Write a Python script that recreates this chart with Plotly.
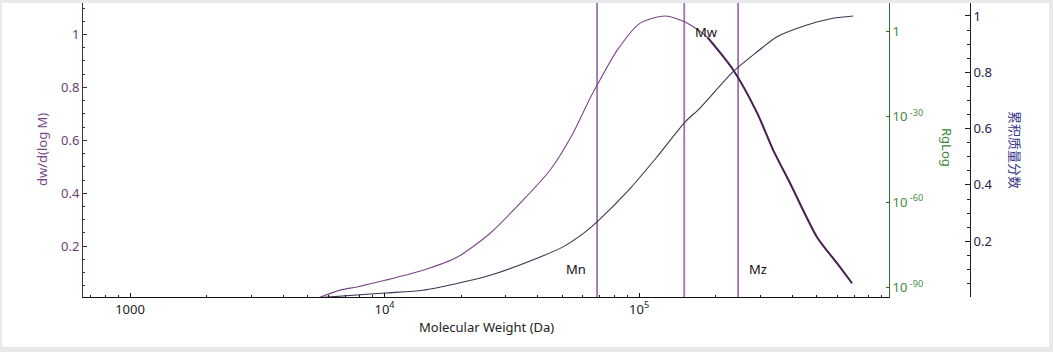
import numpy as np
import plotly.graph_objects as go

# ---------------- data ----------------
dist_M = [5333, 6683, 7795, 10040, 14160, 19270, 26000, 35010, 44680, 55030, 64170,
          68370, 81980, 100900, 126700, 151800, 185300, 234500, 291200, 336500,
          392100, 500400, 599500, 687000]
dist_val = [0.0, 0.034, 0.046, 0.071, 0.109, 0.158, 0.249, 0.374, 0.487, 0.627, 0.759,
            0.808, 0.940, 1.043, 1.070, 1.047, 0.990, 0.866, 0.703, 0.563,
            0.438, 0.234, 0.136, 0.060]

cum_M = [5585, 10040, 14160, 19270, 26000, 35010, 50230, 60240, 68370, 92170,
         117700, 151800, 173700, 234100, 285700, 348500, 457100, 578600, 693600]
cum_val = [0.0, 0.016, 0.026, 0.050, 0.079, 0.120, 0.180, 0.227, 0.269, 0.387,
           0.500, 0.624, 0.673, 0.802, 0.867, 0.926, 0.968, 0.992, 1.0]

rg_M = []
rg_val = []

averages = ["Mn", "Mw", "Mz"]
average_M = [68400, 150500, 245000]

x_tickvals = [1000, 1e4, 1e5]
x_ticktext = ["1000", "10<sup>4</sup>", "10<sup>5</sup>"]
x_minor_vals = [k * 10 ** e for e in (2, 3, 4, 5) for k in range(2, 10)]
rg_tickvals = [1, 1e-30, 1e-60, 1e-90]
rg_ticktext = ["1", "10<sup> -30</sup>", "10<sup> -60</sup>", "10<sup> -90</sup>"]
frac_tickvals = [0.2, 0.4, 0.6, 0.8, 1]
frac_ticktext = ["0.2", "0.4", "0.6", "0.8", "1"]

# ---------------- layout helpers ----------------
W, H = 1053, 352
ML, MR, MT, MB = 83, 53, 3, 55
PW = W - ML - MR
PH = H - MT - MB


def px_x(p):
    return (p - ML) / PW


def px_y(p):
    return (H - MB - p) / PH


y1_range = [0.008, 1.119]
y3_range = [0.002, 1.046]

FONT = "Noto Sans, Open Sans, sans-serif"
SMOOTH = 0.7

fig = go.Figure()

# vertical average lines
for name, m in zip(averages, average_M):
    fig.add_trace(go.Scatter(x=[m, m], y=[y1_range[0] - 1, y1_range[1] + 1], mode="lines",
                             line=dict(color="#9d74ab", width=1.8), showlegend=False,
                             hoverinfo="skip"))

# distribution curve
fig.add_trace(go.Scatter(x=dist_M, y=dist_val, mode="lines",
                         line=dict(color="#7a4785", width=1.1, shape="spline", smoothing=SMOOTH),
                         showlegend=False))
tail = [i for i, m in enumerate(dist_M) if m >= 180000]
fig.add_trace(go.Scatter(x=[dist_M[i] for i in tail], y=[dist_val[i] for i in tail], mode="lines",
                         line=dict(color="#4a2152", width=2, shape="spline", smoothing=SMOOTH),
                         showlegend=False))

# cumulative curve
fig.add_trace(go.Scatter(x=cum_M, y=cum_val, mode="lines", yaxis="y3",
                         line=dict(color="#3c3550", width=1.1, shape="spline", smoothing=SMOOTH),
                         showlegend=False))

# RgLog (empty)
fig.add_trace(go.Scatter(x=rg_M, y=rg_val, mode="lines", yaxis="y2", showlegend=False))

x_domain_end = px_x(889)

fig.update_layout(
    width=W, height=H,
    margin=dict(l=ML, r=MR, t=MT, b=MB, pad=0),
    paper_bgcolor="#e9e9e9",
    plot_bgcolor="white",
    font=dict(family=FONT, size=13, color="#222"),
    showlegend=False,
    xaxis=dict(
        type="log", domain=[0, x_domain_end],
        range=[2.8153, 5.982],
        showgrid=False, zeroline=False,
        showline=True, linecolor="#111", linewidth=1,
        ticks="inside", ticklen=4, tickcolor="#111",
        tickvals=x_tickvals, ticktext=x_ticktext,
        tickfont=dict(size=13, color="#222"),
        minor=dict(ticks="inside", ticklen=2, tickcolor="#111", showgrid=False,
                   tickvals=x_minor_vals),
    ),
    yaxis=dict(
        range=y1_range, showgrid=False, zeroline=False,
        showline=True, linecolor="#4a2a52", linewidth=1,
        ticks="inside", ticklen=4, tickcolor="#4a2a52",
        tickvals=frac_tickvals, ticktext=frac_ticktext,
        tickfont=dict(size=13, color="#6a4172"),
        minor=dict(ticks="inside", ticklen=2, dtick=0.05, tick0=0, tickcolor="#4a2a52"),
    ),
    yaxis2=dict(
        type="log", overlaying="y", side="right", anchor="x",
        range=[-93.3, 9.84], showgrid=False, zeroline=False,
        showline=True, linecolor="#2f6a30", linewidth=1,
        ticks="inside", ticklen=3, tickcolor="#2f6a30",
        tickvals=rg_tickvals, ticktext=rg_ticktext,
        tickfont=dict(size=13, color="#3f8c3f"),
    ),
    yaxis3=dict(
        overlaying="y", side="right", anchor="free", position=px_x(970),
        range=y3_range, showgrid=False, zeroline=False,
        showline=True, linecolor="#1c1c30", linewidth=1,
        ticks="inside", ticklen=5, tickcolor="#1c1c30",
        tickvals=frac_tickvals, ticktext=frac_ticktext,
        tickfont=dict(size=13, color="#222244"),
        minor=dict(ticks="inside", ticklen=3, dtick=0.05, tick0=0, tickcolor="#1c1c30"),
    ),
)

fig.add_shape(type="rect", xref="paper", yref="paper",
              x0=px_x(2), x1=px_x(1049), y0=px_y(347), y1=px_y(3),
              fillcolor="white", line=dict(width=0), layer="below")

annos = [
    dict(text="dw/d(log M)", x=px_x(42), y=px_y(150), textangle=-90,
         font=dict(size=13, color="#7b4a86")),
    dict(text="RgLog", x=px_x(947), y=px_y(147), textangle=90,
         font=dict(size=13, color="#3b8b3b")),
    dict(text="累积质量分数", x=px_x(1016), y=px_y(150), textangle=90,
         font=dict(size=13, color="#3a3a8a", family="Noto Sans CJK SC")),
    dict(text="Molecular Weight (Da)", x=px_x(486), y=px_y(327),
         font=dict(size=13, color="#222")),
]
for a in annos:
    fig.add_annotation(xref="paper", yref="paper", showarrow=False,
                       xanchor="center", yanchor="middle", **a)

label_shift = [-21, 22, 20]
label_y = [269, 32, 269]
for name, m, dx, py in zip(averages, average_M, label_shift, label_y):
    fig.add_annotation(x=np.log10(m), xref="x", y=px_y(py), yref="paper", text=name,
                       showarrow=False, xshift=dx, xanchor="center", yanchor="middle",
                       font=dict(size=13, color="#111"))

fig.write_html("out.html")
